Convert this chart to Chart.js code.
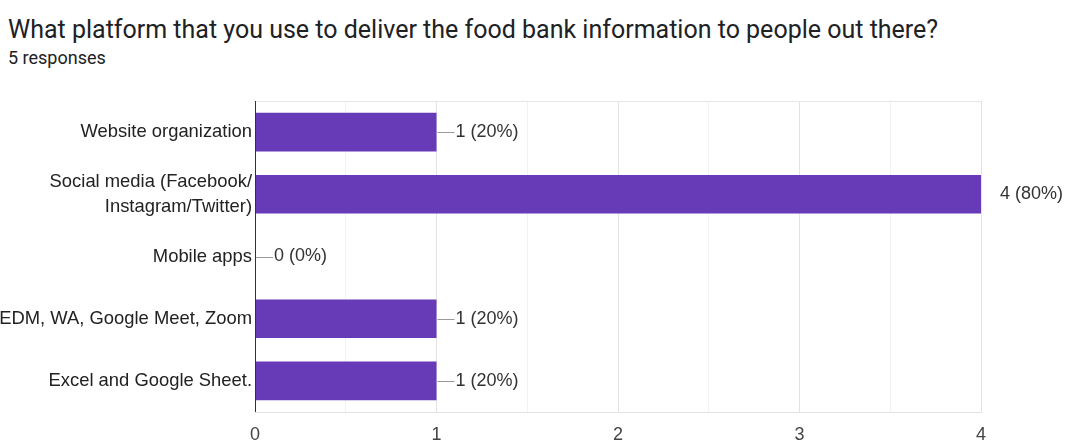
<!DOCTYPE html>
<html>
<head>
<meta charset="utf-8">
<script src="https://cdn.jsdelivr.net/npm/chart.js@4"></script>
<style>
html,body{margin:0;padding:0;background:#fff;width:1068px;height:442px;overflow:hidden;}
#title{position:absolute;left:8px;top:15px;font-family:Roboto,"Liberation Sans",sans-serif;font-size:25px;line-height:30px;color:#202124;white-space:nowrap;}
#sub{position:absolute;left:8px;top:47px;font-family:Roboto,"Liberation Sans",sans-serif;font-size:18px;line-height:22px;color:#202124;white-space:nowrap;}
canvas{position:absolute;left:0;top:0;}
</style>
</head>
<body>
<div id="title">What platform that you use to deliver the food bank information to people out there?</div>
<div id="sub">5 responses</div>
<canvas id="c" width="1068" height="442"></canvas>
<script>
const categories = [
  "Website organization",
  ["Social media (Facebook/", "Instagram/Twitter)"],
  "Mobile apps",
  "EDM, WA, Google Meet, Zoom",
  "Excel and Google Sheet."
];
const counts = [1, 4, 0, 1, 1];
const percents = ["20%", "80%", "0%", "20%", "20%"];
const xTickLabels = ["0", "1", "2", "3", "4"];

const valueLabels = {
  id: 'valueLabels',
  afterDatasetsDraw(chart) {
    const ctx = chart.ctx;
    const meta = chart.getDatasetMeta(0);
    const area = chart.chartArea;
    ctx.save();
    ctx.font = '18px "Liberation Sans", Arial, sans-serif';
    ctx.fillStyle = '#333';
    ctx.textBaseline = 'middle';
    ctx.textAlign = 'left';
    meta.data.forEach((bar, i) => {
      const x = bar.x;
      const y = bar.y;
      const lineEnd = Math.min(x + 18, area.right);
      if (lineEnd > x + 1) {
        ctx.strokeStyle = '#999';
        ctx.lineWidth = 1;
        ctx.beginPath();
        ctx.moveTo(x + 1, Math.round(y) + 0.5);
        ctx.lineTo(lineEnd, Math.round(y) + 0.5);
        ctx.stroke();
      }
      ctx.fillText(counts[i] + ' (' + percents[i] + ')', x + 19, y);
    });
    ctx.restore();
  }
};

const frame = {
  id: 'frame',
  beforeDatasetsDraw(chart) {
    const ctx = chart.ctx;
    const a = chart.chartArea;
    ctx.save();
    ctx.strokeStyle = '#e6e6e6';
    ctx.lineWidth = 1;
    ctx.beginPath();
    ctx.moveTo(a.left, a.top + 0.5);
    ctx.lineTo(a.right, a.top + 0.5);
    ctx.stroke();
    ctx.restore();
  },
  afterDatasetsDraw(chart) {
    const ctx = chart.ctx;
    const a = chart.chartArea;
    ctx.save();
    ctx.strokeStyle = '#333';
    ctx.lineWidth = 1;
    ctx.beginPath();
    ctx.moveTo(a.left + 0.5, a.top);
    ctx.lineTo(a.left + 0.5, a.bottom);
    ctx.stroke();
    ctx.restore();
  }
};

new Chart(document.getElementById('c'), {
  type: 'bar',
  data: {
    labels: categories,
    datasets: [{
      data: counts,
      backgroundColor: '#673ab7',
      borderWidth: 0,
      barPercentage: 0.62,
      categoryPercentage: 1.0
    }]
  },
  options: {
    indexAxis: 'y',
    responsive: false,
    animation: false,
    layout: { padding: { top: 101, right: 87, left: 0, bottom: 0 } },
    plugins: { legend: { display: false }, tooltip: { enabled: false } },
    scales: {
      x: {
        min: 0, max: 4,
        ticks: {
          stepSize: 0.5,
          autoSkip: false,
          maxRotation: 0,
          padding: 12,
          color: '#444',
          font: { family: '"Liberation Sans", Arial, sans-serif', size: 18 },
          callback: (v) => Number.isInteger(v) ? xTickLabels[v] : ''
        },
        grid: {
          drawTicks: false,
          color: (ctx) => (ctx.tick && Number.isInteger(ctx.tick.value)) ? '#e3e3e3' : '#f2f2f2'
        },
        border: { display: true, color: '#e3e3e3' },
        afterFit: (s) => { s.height = 30; }
      },
      y: {
        ticks: {
          padding: 3,
          color: '#222',
          font: { family: '"Liberation Sans", Arial, sans-serif', size: 18.4, lineHeight: 1.36 }
        },
        grid: { display: false, drawTicks: false },
        border: { display: false },
        afterFit: (s) => { s.width = 255; }
      }
    }
  },
  plugins: [frame, valueLabels]
});
</script>
</body>
</html>
